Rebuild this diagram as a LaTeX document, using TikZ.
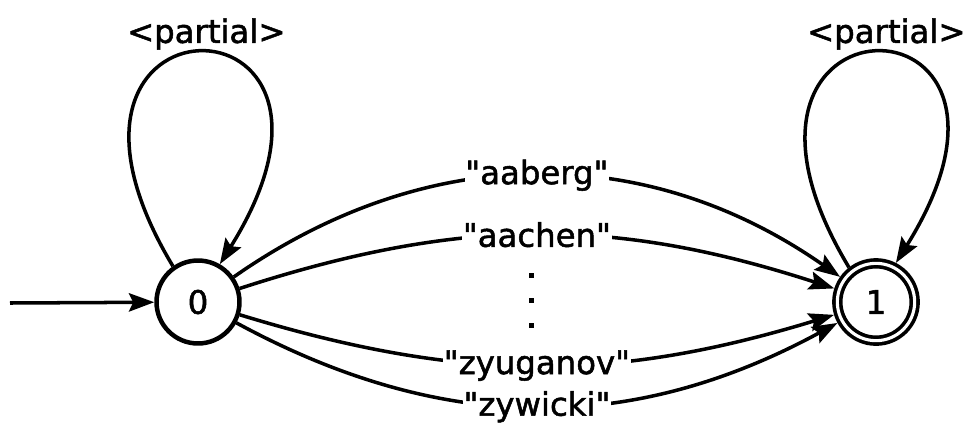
\documentclass[tikz,border=0pt]{standalone}
\usepackage{fontspec}
\setmainfont{DejaVu Sans}
\newfontfamily\heavyfont{DejaVu Sans}[FakeBold=1.6]
\usetikzlibrary{arrows.meta}

\begin{document}
\begin{tikzpicture}[
    x=0.025cm, y=-0.025cm,
    state/.style={circle, draw, line width=3.2pt, minimum size=59pt,
                  inner sep=0pt, font=\heavyfont\fontsize{23}{27}\selectfont},
    final/.style={circle, draw, line width=2.6pt, double, double distance=2.2pt,
                  outer sep=3.7pt, minimum size=55pt, inner sep=0pt,
                  font=\heavyfont\fontsize{23}{27}\selectfont},
    arr/.style={-{Stealth[length=18pt, width=13pt, inset=3pt]}, line width=2.5pt},
    lbl/.style={fill=white, inner sep=0.5pt, font=\heavyfont\fontsize{23}{27}\selectfont},
    txt/.style={inner sep=1pt, font=\heavyfont\fontsize{23}{27}\selectfont}
]
    \useasboundingbox (0,0) rectangle (967,423);

    % States
    \node[state] (q0) at (198,302) {0};
    \node[final] (q1) at (876,302) {1};
    \coordinate (start) at (10,303);

    % Initial arrow
    \draw[arr] (start) -- (q0);

    % Self loops
    \draw[arr] (q0.125) to[out=121, in=58, distance=8.3cm]
        node[txt, above, xshift=0.2cm] {<partial>} (q0.60);
    \draw[arr] (q1.128) to[out=121, in=58, distance=8.3cm]
        node[txt, above, xshift=0.3cm] {<partial>} (q1.63);

    % Transitions
    \draw[arr] (q0) to[bend left=35] node[lbl] {\textquotedbl aaberg\textquotedbl} (q1);
    \draw[arr] (q0) to[bend left=18] node[lbl] {\textquotedbl aachen\textquotedbl} (q1);
    \draw[arr] (q0) to[bend right=17] node[lbl] {\textquotedbl zyuganov\textquotedbl} (q1);
    \draw[arr] (q0) to[bend right=28.5] node[lbl] {\textquotedbl zywicki\textquotedbl} (q1);

    % Vertical ellipsis
    \foreach \y in {275,300,325}
        \fill (528.5,\y-2.5) rectangle ++(5,5);
\end{tikzpicture}
\end{document}
